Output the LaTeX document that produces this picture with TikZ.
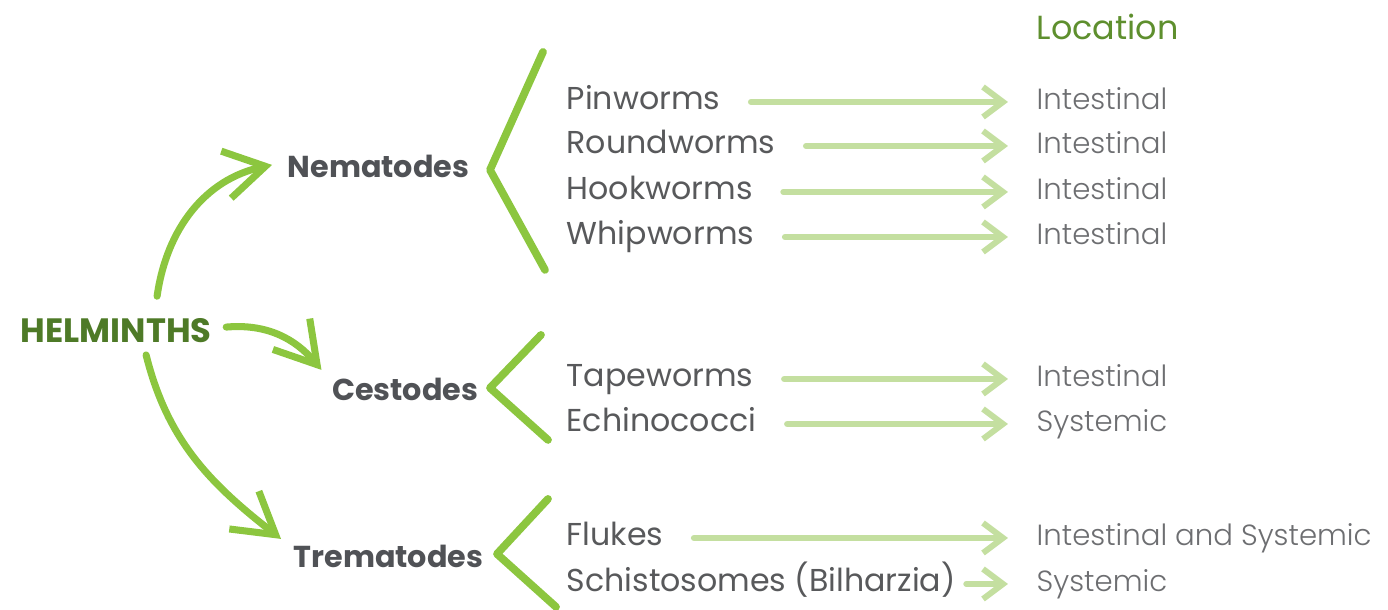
\documentclass[tikz,border=0pt]{standalone}
\usepackage{fontspec}
\setmainfont{Poppins}
\newfontfamily\lightfont{Poppins Light}
\usetikzlibrary{arrows.meta,calc}
\definecolor{helmgreen}{HTML}{4E7A27}
\definecolor{locgreen}{HTML}{5E8F2E}
\definecolor{catgrey}{HTML}{505256}
\definecolor{itemgrey}{HTML}{58595B}
\definecolor{locgrey}{HTML}{6D6E71}
\definecolor{brightgreen}{HTML}{8CC63F}
\definecolor{palegreen}{HTML}{C4DFA0}
\def \itemx{566}
\def \locx{1036}

\begin{document}
\begin{tikzpicture}[x=0.01cm, y=0.01cm,
    item/.style={anchor=base west, inner sep=0pt, text height=0.22cm, text depth=0.06cm,
      font=\fontsize{9}{11}\selectfont, text=itemgrey},
    loc/.style={item, font=\fontsize{8.3}{11}\selectfont\lightfont, text=locgrey},
    cat/.style={anchor=base east, inner sep=0pt, font=\fontsize{8.6}{11}\selectfont\bfseries, text=catgrey},
    bigarrow/.style={draw=brightgreen, line width=2pt, line cap=round,
      -{Straight Barb[length=0.4cm, width=0.48cm]}},
    palearrow/.style={draw=palegreen, line width=1.7pt, line cap=round,
      shorten <=0.3cm, shorten >=0.28cm, -{Straight Barb[length=0.2cm, width=0.3cm]}},
    catbrace/.style={draw=brightgreen, line width=2.2pt, line cap=round, line join=round}]
    \useasboundingbox (0,0) rectangle (1388,610);

    \node[anchor=base west, inner sep=0pt, font=\fontsize{9.5}{11}\selectfont, text=locgreen] (locttl) at (\locx, 570) {Location};
    \node[anchor=base west, inner sep=0pt, font=\fontsize{9.6}{11}\selectfont\bfseries, text=helmgreen] (helm) at (20, 267) {HELMINTHS};

    \node[cat] (nema) at (470, 432) {Nematodes};
    \node[cat] (cest) at (479, 209) {Cestodes};
    \node[cat] (trem) at (484, 42) {Trematodes};

    \node[item] (pin) at (\itemx, 500) {Pinworms};
    \node[item] (round) at (\itemx, 456) {Roundworms};
    \node[item] (hook) at (\itemx, 410) {Hookworms};
    \node[item] (whip) at (\itemx, 365) {Whipworms};
    \node[item] (tape) at (\itemx, 223) {Tapeworms};
    \node[item] (echi) at (\itemx, 178) {Echinococci};
    \node[item] (fluke) at (\itemx, 64) {Flukes};
    \node[item] (schi) at (\itemx, 18) {Schistosomes (Bilharzia)};

    \node[loc] (pinloc) at (\locx, 500) {Intestinal};
    \node[loc] (roundloc) at (\locx, 456) {Intestinal};
    \node[loc] (hookloc) at (\locx, 410) {Intestinal};
    \node[loc] (whiploc) at (\locx, 365) {Intestinal};
    \node[loc] (tapeloc) at (\locx, 223) {Intestinal};
    \node[loc] (echiloc) at (\locx, 178) {Systemic};
    \node[loc] (flukeloc) at (\locx, 64) {Intestinal and Systemic};
    \node[loc] (schiloc) at (\locx, 18) {Systemic};

    % helminths to the three groups
    \draw[bigarrow] ([shift={(41,22)}]helm.north) to[out=82, in=192] ([shift={(-15,2)}]nema.west);
    \draw[bigarrow] ([shift={(14,4)}]helm.east) to[out=5, in=130] ([shift={(-10,8)}]cest.north west);
    \draw[bigarrow] ([shift={(30,-11)}]helm.south) to[out=-76, in=142] ([shift={(-12,6)}]trem.north west);

    % braces
    \draw[catbrace] ($(nema.east)+(73,115)$) -- ($(nema.east)+(20,-3)$) -- ($(nema.east)+(75,-103)$);
    \draw[catbrace] ($(cest.east)+(62,55)$) -- ($(cest.east)+(11,2)$) -- ($(cest.east)+(69,-50)$);
    \draw[catbrace] ($(trem.east)+(64,58)$) -- ($(trem.east)+(13,3)$) -- ($(trem.east)+(72,-50)$);

    % group members to location
    \draw[palearrow] (pin) -- (pinloc);
    \draw[palearrow] (round) -- (roundloc);
    \draw[palearrow] (hook) -- (hookloc);
    \draw[palearrow] (whip) -- (whiploc);
    \draw[palearrow] (tape) -- (tapeloc);
    \draw[palearrow] (echi) -- (echiloc);
    \draw[palearrow] (fluke) -- (flukeloc);
    \draw[palearrow, shorten <=0.1cm] (schi) -- (schiloc);
\end{tikzpicture}
\end{document}
